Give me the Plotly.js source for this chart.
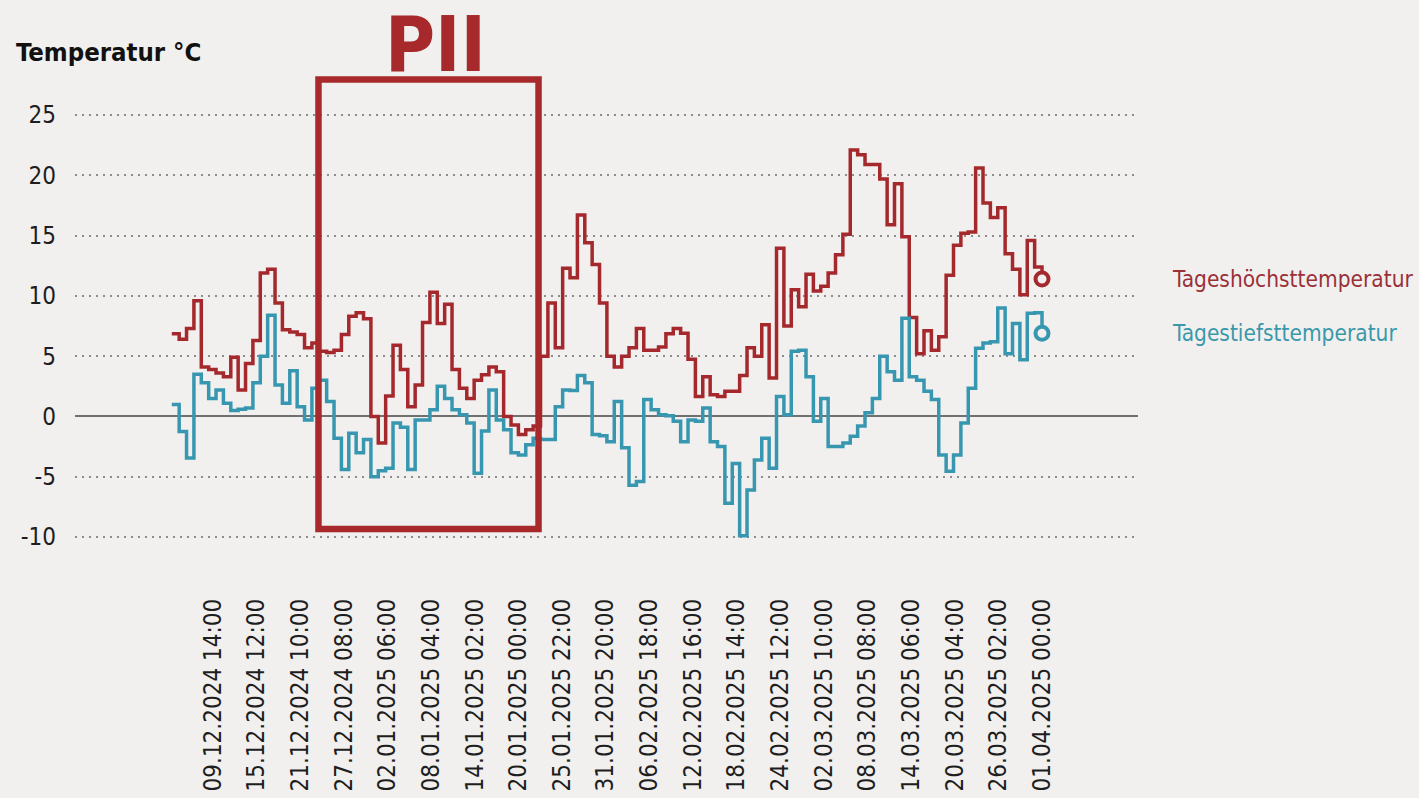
<!DOCTYPE html>
<html>
<head>
<meta charset="utf-8">
<script src="https://cdn.plot.ly/plotly-3.0.1.min.js"></script>
<style>
  html, body { margin: 0; padding: 0; background: #f1f0ee; }
  #chart { width: 1419px; height: 798px; }
</style>
</head>
<body>
<div id="chart"></div>
<script>
// ---- Data ----
const startDay = [2024, 11, 4]; // 04.12.2024 (month is 0-based)

const tagesHoechst = [
  6.85, 6.4, 7.3, 9.6, 4.1, 3.9, 3.6, 3.3, 4.9, 2.2,
  4.4, 6.3, 11.9, 12.2, 9.4, 7.2, 7.0, 6.8, 5.7, 6.1,
  5.4, 5.3, 5.5, 6.8, 8.3, 8.6, 8.1, 0.0, -2.2, 1.7,
  5.9, 3.9, 0.8, 2.6, 7.8, 10.3, 7.7, 9.3, 3.9, 2.35,
  1.5, 3.0, 3.45, 4.1, 3.7, 0.0, -0.7, -1.5, -1.1, -0.8,
  5.0, 9.4, 5.7, 12.3, 11.5, 16.7, 14.4, 12.6, 9.4, 5.0,
  4.1, 5.0, 5.7, 7.3, 5.5, 5.5, 5.75, 6.85, 7.3, 6.9,
  4.75, 1.65, 3.3, 1.8, 1.65, 2.1, 2.1, 3.4, 5.7, 5.0,
  7.6, 3.2, 13.95, 7.5, 10.5, 9.1, 11.8, 10.4, 10.8, 11.9,
  13.4, 15.1, 22.1, 21.7, 20.9, 20.9, 19.7, 15.9, 19.3, 14.9,
  8.2, 5.2, 7.1, 5.5, 6.6, 11.7, 14.2, 15.2, 15.3, 20.6,
  17.7, 16.5, 17.3, 13.5, 12.2, 10.1, 14.6, 12.4, 11.4
];

const tagesTiefst = [
  1.0, -1.25, -3.45, 3.5, 2.8, 1.5, 2.2, 1.1, 0.5, 0.6,
  0.7, 2.8, 5.0, 8.4, 2.6, 1.1, 3.8, 0.8, -0.3, 2.35,
  3.0, 1.25, -1.8, -4.4, -1.4, -3.0, -1.9, -5.0, -4.5, -4.3,
  -0.55, -0.9, -4.4, -0.3, -0.3, 0.55, 2.5, 1.5, 0.55, 0.15,
  -0.55, -4.7, -1.2, 2.2, -0.3, -1.1, -3.0, -3.2, -2.35, -1.8,
  -1.9, -1.9, 0.8, 2.2, 2.15, 3.4, 2.8, -1.5, -1.6, -2.1,
  1.25, -2.6, -5.7, -5.4, 1.4, 0.55, 0.15, 0.05, -0.4, -2.1,
  -0.3, -0.4, 0.7, -2.1, -2.5, -7.2, -3.9, -9.9, -6.1, -3.6,
  -1.8, -4.3, 1.65, 0.15, 5.4, 5.5, 3.3, -0.4, 1.5, -2.5,
  -2.5, -2.2, -1.65, -0.8, 0.3, 1.5, 5.0, 3.7, 3.0, 8.15,
  3.3, 3.0, 2.1, 1.4, -3.2, -4.55, -3.2, -0.55, 2.35, 5.65,
  6.1, 6.2, 9.0, 5.2, 7.7, 4.7, 8.55, 8.6, 6.9
];

const tickDates = [
  '2024-12-09 14:00', '2024-12-15 12:00', '2024-12-21 10:00', '2024-12-27 08:00',
  '2025-01-02 06:00', '2025-01-08 04:00', '2025-01-14 02:00', '2025-01-20 00:00',
  '2025-01-25 22:00', '2025-01-31 20:00', '2025-02-06 18:00', '2025-02-12 16:00',
  '2025-02-18 14:00', '2025-02-24 12:00', '2025-03-02 10:00', '2025-03-08 08:00',
  '2025-03-14 06:00', '2025-03-20 04:00', '2025-03-26 02:00', '2025-04-01 00:00'
];
const tickLabels = [
  '09.12.2024 14:00', '15.12.2024 12:00', '21.12.2024 10:00', '27.12.2024 08:00',
  '02.01.2025 06:00', '08.01.2025 04:00', '14.01.2025 02:00', '20.01.2025 00:00',
  '25.01.2025 22:00', '31.01.2025 20:00', '06.02.2025 18:00', '12.02.2025 16:00',
  '18.02.2025 14:00', '24.02.2025 12:00', '02.03.2025 10:00', '08.03.2025 08:00',
  '14.03.2025 06:00', '20.03.2025 04:00', '26.03.2025 02:00', '01.04.2025 00:00'
];
const yTickVals = [-10, -5, 0, 5, 10, 15, 20, 25];
const yTickLabels = ['-10', '-5', '0', '5', '10', '15', '20', '25'];

const seriesNames = ['Tageshöchsttemperatur', 'Tagestiefsttemperatur'];
const axisTitle = 'Temperatur °C';
const highlightLabel = 'PII';
const highlightPeriod = ['2024-12-23 21:20', '2025-01-22 17:30'];
const highlightTemps = [-9.33, 27.94];

// ---- Build the chart ----
const dates = tagesHoechst.map((_, i) => {
  const d = new Date(Date.UTC(startDay[0], startDay[1], startDay[2] + i));
  return d.toISOString().slice(0, 10);
});

const RED = '#a5282c';
const TEAL = '#3897b0';
const BG = '#f1f0ee';
const FONT = "'DejaVu Sans Condensed', 'Noto Sans', sans-serif";

const last = dates.length - 1;

const traces = [
  {
    x: dates, y: tagesHoechst, type: 'scatter', mode: 'lines',
    line: { shape: 'hv', color: RED, width: 3.5 }, name: seriesNames[0], hoverinfo: 'x+y'
  },
  {
    x: dates, y: tagesTiefst, type: 'scatter', mode: 'lines',
    line: { shape: 'hv', color: TEAL, width: 3.5 }, name: seriesNames[1], hoverinfo: 'x+y'
  },
  {
    x: [dates[last]], y: [tagesHoechst[last]], type: 'scatter', mode: 'markers',
    marker: { symbol: 'circle', size: 13, color: BG, line: { color: RED, width: 4 } },
    hoverinfo: 'skip', showlegend: false
  },
  {
    x: [dates[last]], y: [tagesTiefst[last]], type: 'scatter', mode: 'markers',
    marker: { symbol: 'circle', size: 13, color: BG, line: { color: TEAL, width: 4 } },
    hoverinfo: 'skip', showlegend: false
  }
];

const layout = {
  width: 1419, height: 798,
  paper_bgcolor: BG, plot_bgcolor: BG,
  margin: { l: 75, r: 281, t: 70, b: 208, pad: 0 },
  showlegend: false,
  font: { family: FONT, color: '#1e1e1e' },
  xaxis: {
    type: 'date',
    range: ['2024-11-20 21:00', '2025-04-14 00:24'],
    tickmode: 'array', tickvals: tickDates, ticktext: tickLabels,
    tickangle: -90, ticks: '', showgrid: false, zeroline: false, showline: false,
    ticklabelstandoff: 3,
    tickfont: { family: FONT, size: 24, color: '#1e1e1e' },
    fixedrange: true
  },
  yaxis: {
    range: [-14.39, 28.73],
    tickmode: 'array', tickvals: yTickVals, ticktext: yTickLabels,
    ticks: '', showline: false,
    showgrid: true, gridcolor: '#8c8c8c', gridwidth: 2, griddash: '2px,5px',
    zeroline: true, zerolinecolor: '#707070', zerolinewidth: 2,
    ticklabelstandoff: 18,
    tickfont: { family: FONT, size: 24, color: '#1e1e1e' },
    fixedrange: true
  },
  shapes: [
    {
      type: 'rect', xref: 'x', yref: 'y',
      x0: highlightPeriod[0], x1: highlightPeriod[1],
      y0: highlightTemps[0], y1: highlightTemps[1],
      line: { color: '#a8292b', width: 6.5 }, fillcolor: 'rgba(0,0,0,0)', layer: 'above'
    }
  ],
  annotations: [
    {
      text: axisTitle, xref: 'paper', yref: 'paper',
      x: (14 - 75) / 1063, y: (590 - 52) / 520, xanchor: 'left', yanchor: 'middle', showarrow: false,
      font: { family: FONT, size: 25.5, color: '#111', weight: 'bold' }
    },
    {
      text: highlightLabel, xref: 'paper', yref: 'paper',
      x: (435 - 75) / 1063, y: (590 - 45) / 520, xanchor: 'center', yanchor: 'middle', showarrow: false,
      font: { family: FONT, size: 76, color: '#a8292b', weight: 'bold' }
    },
    {
      text: seriesNames[0], xref: 'paper', yref: 'y',
      x: (1170 - 75) / 1063, y: tagesHoechst[last], xanchor: 'left', yanchor: 'middle', showarrow: false,
      font: { family: FONT, size: 22.5, color: '#9a3038' }
    },
    {
      text: seriesNames[1], xref: 'paper', yref: 'y',
      x: (1170 - 75) / 1063, y: tagesTiefst[last], xanchor: 'left', yanchor: 'middle', showarrow: false,
      font: { family: FONT, size: 22.5, color: '#3a98ab' }
    }
  ]
};

Plotly.newPlot('chart', traces, layout, { displayModeBar: false, staticPlot: true });
</script>
</body>
</html>
